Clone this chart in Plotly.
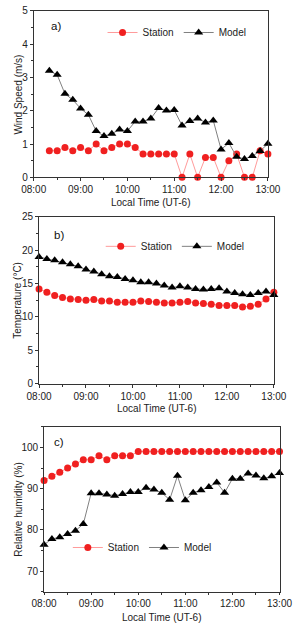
import plotly.graph_objects as go

# ---------------- data ----------------
times_a = ["08:20", "08:30", "08:40", "08:50", "09:00", "09:10", "09:20", "09:30", "09:40", "09:50",
           "10:00", "10:10", "10:20", "10:30", "10:40", "10:50", "11:00", "11:10", "11:20", "11:30",
           "11:40", "11:50", "12:00", "12:10", "12:20", "12:30", "12:40", "12:50", "13:00"]
wind_station = [0.8, 0.8, 0.9, 0.8, 0.9, 0.8, 1.0, 0.8, 0.9, 1.0,
                1.0, 0.9, 0.7, 0.7, 0.7, 0.7, 0.7, 0.0, 0.7, 0.0,
                0.6, 0.6, 0.0, 0.5, 0.7, 0.0, 0.0, 0.8, 0.7]
wind_model = [3.2, 3.08, 2.51, 2.33, 2.07, 1.88, 1.39, 1.24, 1.31, 1.44,
              1.39, 1.68, 1.68, 1.77, 2.08, 2.01, 2.02, 1.56, 1.69, 1.77,
              1.65, 1.71, 0.84, 1.03, 0.62, 0.55, 0.64, 0.79, 1.01]

times_bc = ["08:00", "08:10", "08:20", "08:30", "08:40", "08:50", "09:00", "09:10", "09:20", "09:30",
            "09:40", "09:50", "10:00", "10:10", "10:20", "10:30", "10:40", "10:50", "11:00", "11:10",
            "11:20", "11:30", "11:40", "11:50", "12:00", "12:10", "12:20", "12:30", "12:40", "12:50", "13:00"]
temp_station = [14.2, 13.7, 13.2, 12.9, 12.7, 12.6, 12.5, 12.6, 12.4, 12.4,
                12.2, 12.2, 12.2, 12.4, 12.3, 12.2, 12.1, 12.1, 12.2, 12.3,
                12.1, 12.0, 11.9, 11.7, 11.7, 11.7, 11.5, 11.6, 11.9, 12.7, 13.7]
temp_model = [19.0, 18.7, 18.5, 18.2, 17.9, 17.6, 17.1, 16.8, 16.4, 16.1,
              16.0, 15.7, 15.5, 15.2, 15.2, 15.0, 14.7, 14.4, 14.6, 14.4,
              14.2, 14.1, 14.2, 14.3, 13.8, 13.6, 13.4, 13.3, 13.6, 13.8, 13.3]
rh_station = [92, 93, 94, 95, 96, 97, 97, 98, 97, 98,
              98, 98, 99, 99, 99, 99, 99, 99, 99, 99,
              99, 99, 99, 99, 99, 99, 99, 99, 99, 99, 99]
rh_model = [76.4, 77.8, 78.2, 79.0, 79.8, 81.4, 88.9, 88.9, 88.6, 88.3,
            88.7, 89.2, 89.2, 90.2, 89.8, 89.0, 87.3, 93.1, 87.2, 89.0,
            89.6, 90.4, 91.5, 89.0, 92.4, 92.4, 93.7, 93.2, 92.5, 93.0, 93.8]

x_tick_labels = ["08:00", "09:00", "10:00", "11:00", "12:00", "13:00"]

DAY = "2024-01-01 "
xa = [DAY + t for t in times_a]
xbc = [DAY + t for t in times_bc]
xticks = [DAY + t for t in x_tick_labels]

# ---------------- style ----------------
W, H = 301, 630
FONT = "Liberation Sans, Arial, sans-serif"
FS = 10
RED = "#f02020"
RED_LINE = "#ff9a9a"
BLACK = "#000000"
GRAY_LINE = "#808080"
AX = "#333333"
TXT = "#222222"

def px_x(p):
    return p / W

def px_y(p):
    return 1 - p / H

fig = go.Figure()

panels = [
    ("a", xa, wind_station, wind_model, "x", "y", "legend"),
    ("b", xbc, temp_station, temp_model, "x2", "y2", "legend2"),
    ("c", xbc, rh_station, rh_model, "x3", "y3", "legend3"),
]

for name, xs, st, md, xax, yax, leg in panels:
    fig.add_trace(go.Scatter(
        x=xs, y=st, name="Station", mode="lines+markers",
        line=dict(color=RED_LINE, width=1),
        marker=dict(symbol="circle", size=7, color=RED),
        xaxis=xax, yaxis=yax, legend=leg, cliponaxis=False))
    fig.add_trace(go.Scatter(
        x=xs, y=md, name="Model", mode="lines+markers",
        line=dict(color=GRAY_LINE, width=1),
        marker=dict(symbol="triangle-up", size=8, color=BLACK),
        xaxis=xax, yaxis=yax, legend=leg, cliponaxis=False))

# domains in pixels: (left, right, top, bottom)
doms = {
    "a": (22.7, 279.0, 5.0, 174.7),
    "b": (28.5, 285.5, 215.0, 385.0),
    "c": (34.0, 291.7, 429.0, 597.0),
}

axis_common = dict(
    showline=True, linecolor=AX, linewidth=1, mirror=True,
    ticks="outside", ticklen=3, tickwidth=1, tickcolor=AX,
    showgrid=False, zeroline=False,
    tickfont=dict(family=FONT, size=FS, color=TXT),
)

xkeys = {"a": "xaxis", "b": "xaxis2", "c": "xaxis3"}
ykeys = {"a": "yaxis", "b": "yaxis2", "c": "yaxis3"}
yanchors = {"a": "y", "b": "y2", "c": "y3"}
xanchors = {"a": "x", "b": "x2", "c": "x3"}

layout_axes = {}
for k, (l, r, t, b) in doms.items():
    layout_axes[xkeys[k]] = dict(
        axis_common,
        domain=[px_x(l), px_x(r)],
        anchor=yanchors[k],
        type="date",
        range=[DAY + "08:00", DAY + "13:00"],
        tickvals=xticks, ticktext=x_tick_labels,
        minor=dict(ticks="outside", ticklen=2, tickcolor=AX, dtick=1800000),
    )
    layout_axes[ykeys[k]] = dict(
        axis_common,
        domain=[px_y(b), px_y(t)],
        anchor=xanchors[k],
    )

layout_axes["yaxis"].update(range=[0, 5], dtick=1, tick0=0,
                            minor=dict(ticks="outside", ticklen=2, tickcolor=AX, dtick=0.5))
layout_axes["yaxis2"].update(range=[0, 25], dtick=5, tick0=0,
                             minor=dict(ticks="outside", ticklen=2, tickcolor=AX, dtick=2.5))
layout_axes["yaxis3"].update(range=[65, 105], tickvals=[70, 80, 90, 100],
                             minor=dict(ticks="outside", ticklen=2, tickcolor=AX,
                                        tickvals=[65, 75, 85, 95, 105]))
layout_axes["xaxis3"].update(ticklen=2)

legend_common = dict(
    orientation="h", bgcolor="rgba(0,0,0,0)",
    font=dict(family=FONT, size=FS, color=TXT),
    xanchor="left", yanchor="middle", itemwidth=30,
    tracegroupgap=0,
)

fig.update_layout(
    width=W, height=H,
    margin=dict(l=0, r=0, t=0, b=0),
    paper_bgcolor="white", plot_bgcolor="white",
    font=dict(family=FONT, size=FS, color=TXT),
    showlegend=True,
    legend=dict(legend_common, x=px_x(98), y=px_y(27)),
    legend2=dict(legend_common, x=px_x(96), y=px_y(245)),
    legend3=dict(legend_common, x=px_x(60), y=px_y(552)),
    **layout_axes,
)

annots = []
for txt, x, y in [("a)", 39, 20), ("b)", 43, 233), ("c)", 43, 444)]:
    annots.append(dict(text=txt, x=px_x(x), y=px_y(y), xref="paper", yref="paper",
                       showarrow=False, xanchor="left", yanchor="middle",
                       font=dict(family=FONT, size=11.5, color="#111111")))
for (k, (l, r, t, b)), ty in zip(doms.items(), [200, 410, 623]):
    annots.append(dict(text="Local Time (UT-6)", x=px_x((l + r) / 2), y=px_y(ty),
                       xref="paper", yref="paper", showarrow=False,
                       xanchor="center", yanchor="middle",
                       font=dict(family=FONT, size=FS, color=TXT)))
for (k, (l, r, t, b)), txt, tx in zip(doms.items(),
                                      ["Wind Speed (m/s)", "Temperature (°C)", "Relative humidity (%)"],
                                      [6, 5, 6]):
    annots.append(dict(text=txt, x=px_x(tx), y=px_y((t + b) / 2),
                       xref="paper", yref="paper", showarrow=False, textangle=-90,
                       xanchor="center", yanchor="middle",
                       font=dict(family=FONT, size=FS, color=TXT)))
fig.update_layout(annotations=annots)

fig.write_html("out.html")
